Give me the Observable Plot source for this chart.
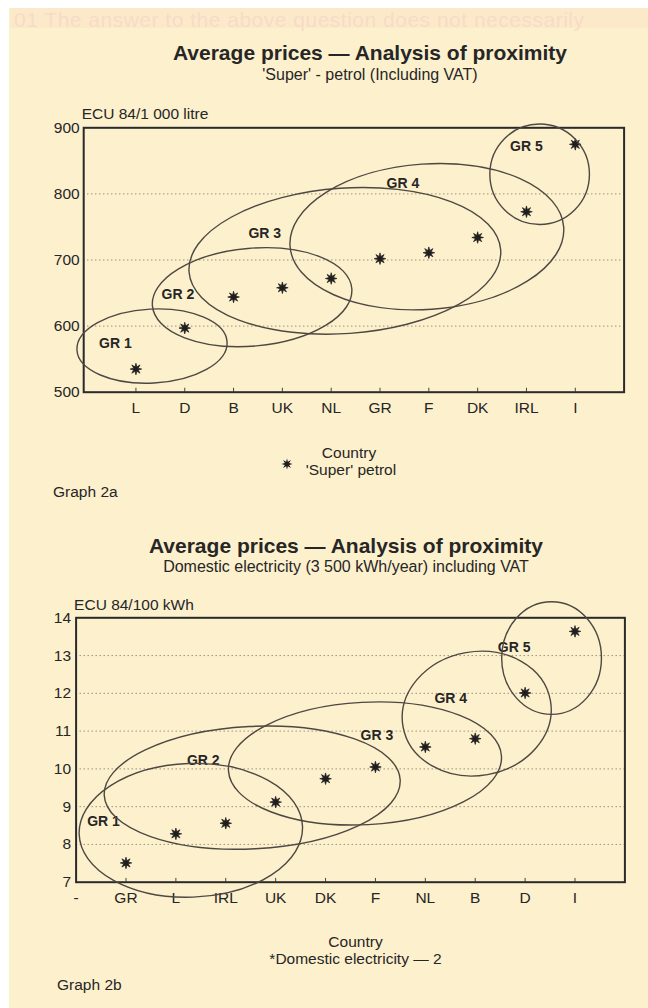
<!DOCTYPE html>
<html><head><meta charset="utf-8">
<script src="https://cdn.jsdelivr.net/npm/d3@7"></script>
<script src="https://cdn.jsdelivr.net/npm/@observablehq/plot@0.6"></script>
<style>
html,body{margin:0;padding:0;background:#ffffff;width:648px;height:1008px;overflow:hidden;position:relative;}
#page{position:absolute;left:9px;top:8px;width:639px;height:1000px;background:#fdf0cd;}
#ghostband{position:absolute;left:10px;top:8px;width:638px;height:20px;background:#fce9c9;}
.t{position:absolute;font-family:"Liberation Sans",Arial,sans-serif;color:#262626;white-space:nowrap;line-height:1;}
.c{transform:translateX(-50%);}
.title{font-weight:bold;font-size:21px;}
.sub{font-size:16px;}
.small{font-size:15.5px;}
.ghost{font-size:21px;color:#f6dcc8;left:14px;top:9px;letter-spacing:0.5px;}
.chart{position:absolute;left:0;}
</style></head>
<body>
<div id="page"></div>
<div id="ghostband"></div>
<div class="t ghost">01 The answer to the above question does not necessarily</div>

<div class="t title c" style="left:370px;top:41.5px">Average prices — Analysis of proximity</div>
<div class="t sub c" style="left:370px;top:67px">'Super' - petrol (Including VAT)</div>
<div id="chart1" class="chart" style="top:100px"></div>
<div class="t small c" style="left:349px;top:445px">Country</div>
<div class="t small c" style="left:351px;top:462px">'Super' petrol</div>
<div id="legstar" style="position:absolute;left:280px;top:457px;width:12px;height:12px"></div>
<div class="t small" style="left:53px;top:484px">Graph 2a</div>

<div class="t title c" style="left:346px;top:534.5px">Average prices — Analysis of proximity</div>
<div class="t sub c" style="left:346px;top:559px">Domestic electricity (3 500 kWh/year) including VAT</div>
<div id="chart2" class="chart" style="top:590px"></div>
<div class="t small c" style="left:355.5px;top:934px">Country</div>
<div class="t small c" style="left:355.5px;top:951px">*Domestic electricity — 2</div>
<div class="t small" style="left:57px;top:977px">Graph 2b</div>

<script>
// ---------- Graph 2a : 'Super' petrol ----------
const petrolCountries = ["L", "D", "B", "UK", "NL", "GR", "F", "DK", "IRL", "I"];
const petrolValues = [535, 597, 644, 658, 672, 702, 711, 734, 773, 875];
const petrolTicks = [500, 600, 700, 800, 900];
const petrolGrid = [600, 700, 800];
const petrolUnit = "ECU 84/1 000 litre";
// proximity groups (centre on category axis, centre value, spread, tilt, label anchor)
const petrolGroupNames = ["GR 1", "GR 2", "GR 3", "GR 4", "GR 5"];
const petrolGroupCx = [1.34, 3.39, 5.29, 6.97, 9.28];
const petrolGroupCy = [569, 643, 698, 734.5, 829];
const petrolGroupSx = [1.54, 2.05, 3.20, 2.81, 1.02];
const petrolGroupSy = [56, 74, 110, 110, 76];
const petrolGroupTilt = [-3, -5, -4, -4, 0];
const petrolLabelX = [0.58, 1.86, 3.64, 6.47, 9.0];
const petrolLabelY = [573, 648, 740, 815, 872];

// ---------- Graph 2b : Domestic electricity ----------
const elecCountries = ["GR", "L", "IRL", "UK", "DK", "F", "NL", "B", "D", "I"];
const elecValues = [7.51, 8.28, 8.56, 9.12, 9.74, 10.05, 10.58, 10.80, 12.01, 13.64];
const elecTicks = [7, 8, 9, 10, 11, 12, 13, 14];
const elecGrid = [8, 9, 10, 11, 12, 13];
const elecAxisLabels = ["-", ...elecCountries];
const elecUnit = "ECU 84/100 kWh";
const elecGroupNames = ["GR 1", "GR 2", "GR 3", "GR 4", "GR 5"];
const elecGroupCx = [2.31, 3.54, 5.80, 8.04, 9.54];
const elecGroupCy = [8.36, 9.49, 10.13, 11.45, 12.92];
const elecGroupSx = [2.24, 2.97, 2.74, 1.50, 1.0];
const elecGroupSy = [1.77, 1.62, 1.62, 1.64, 1.49];
const elecGroupTilt = [-2, -3, -3, -10, 0];
const elecLabelX = [0.55, 2.55, 6.03, 7.51, 8.78];
const elecLabelY = [8.61, 10.22, 10.88, 11.86, 13.21];

// 8-pointed burst symbol
const burst = {
  draw(ctx, size) {
    const R = Math.sqrt(size / Math.PI), r = R * 0.42;
    for (let k = 0; k < 16; k++) {
      const a = k * Math.PI / 8 - Math.PI / 2, rr = k % 2 ? r : R;
      const px = rr * Math.cos(a), py = rr * Math.sin(a);
      k ? ctx.lineTo(px, py) : ctx.moveTo(px, py);
    }
    ctx.closePath();
  }
};

const INK = "#262626";
const style = {fontFamily: "'Liberation Sans', Arial, sans-serif", fontSize: "15.5px", background: "transparent", color: INK, overflow: "visible"};

function build(cfg) {
  const idx = cfg.countries.map((c, i) => i + 1);
  const groups = cfg.names.map((n, i) => ({n, cx: cfg.cx[i], cy: cfg.cy[i], sx: cfg.sx[i], sy: cfg.sy[i], tilt: cfg.tilt[i], lx: cfg.lx[i], ly: cfg.ly[i]}));
  const plot = Plot.plot({
    width: 648, height: 330,
    marginLeft: cfg.ml, marginRight: cfg.mr, marginTop: 27.3, marginBottom: 38.3,
    x: {type: "linear", domain: cfg.xdomain, axis: null, label: null},
    y: {domain: [cfg.ticks[0], cfg.ticks[cfg.ticks.length - 1]], axis: null, label: null},
    style,
    marks: [
      Plot.gridY(cfg.grid, {stroke: "#6f6759", strokeOpacity: 0.85, strokeWidth: 1, strokeDasharray: "1.2,2.8"}),
      Plot.axisX(cfg.xticks, {tickSize: 0, tickPadding: 10, tickFormat: cfg.xfmt, fill: INK, fontSize: 15.5, label: null}),
      Plot.axisY(cfg.ticks, {tickSize: 0, tickPadding: cfg.ypad, fill: INK, fontSize: 15.5, label: null}),
      Plot.ruleX(idx, {y1: cfg.ticks[0], y2: cfg.ticks[0] + cfg.tickLen, stroke: "#444", strokeWidth: 1}),
      Plot.frame({stroke: "#2a2a2a", strokeWidth: 2}),
      Plot.dot(cfg.countries, {x: (d, i) => i + 1, y: (d, i) => cfg.values[i], symbol: burst, r: 5.8, fill: "#1e1e1e", stroke: "#1e1e1e", strokeWidth: 0.7}),
      Plot.text(groups, {x: "lx", y: "ly", text: "n", fontWeight: "bold", fontSize: 14, fill: INK}),
      Plot.text([cfg.unit], {frameAnchor: "top-left", lineAnchor: "middle", dy: cfg.unitDy, dx: cfg.unitDx, textAnchor: "start", fill: INK, fontSize: 15.5})
    ]
  });
  const sx = plot.scale("x"), sy = plot.scale("y");
  const g = d3.select(plot).append("g").attr("fill", "none").attr("stroke", "#4d4842").attr("stroke-width", 1.4);
  for (const e of groups) {
    const px = sx.apply(e.cx), py = sy.apply(e.cy);
    const rx = sx.apply(e.cx + e.sx) - px, ry = py - sy.apply(e.cy + e.sy);
    g.append("ellipse").attr("cx", px).attr("cy", py).attr("rx", rx).attr("ry", ry)
      .attr("transform", `rotate(${e.tilt} ${px} ${py})`);
  }
  return plot;
}

document.getElementById("chart1").append(build({
  countries: petrolCountries, values: petrolValues, ticks: petrolTicks, grid: petrolGrid, unit: petrolUnit,
  names: petrolGroupNames, cx: petrolGroupCx, cy: petrolGroupCy, sx: petrolGroupSx, sy: petrolGroupSy,
  tilt: petrolGroupTilt, lx: petrolLabelX, ly: petrolLabelY,
  xdomain: [-0.07, 11], xticks: petrolCountries.map((c, i) => i + 1), xfmt: i => petrolCountries[i - 1],
  ml: 83.2, mr: 24.4, ypad: 4, tickLen: 6, unitDy: -14, unitDx: -2
}));

document.getElementById("chart2").append(build({
  countries: elecCountries, values: elecValues, ticks: elecTicks, grid: elecGrid, unit: elecUnit,
  names: elecGroupNames, cx: elecGroupCx, cy: elecGroupCy, sx: elecGroupSx, sy: elecGroupSy,
  tilt: elecGroupTilt, lx: elecLabelX, ly: elecLabelY,
  xdomain: [0, 11], xticks: elecAxisLabels.map((c, i) => i), xfmt: i => elecAxisLabels[i],
  ml: 75.6, mr: 23.6, ypad: 5, tickLen: 0.1, unitDy: -12.5, unitDx: -2
}));

// legend star
{
  const p = d3.path(); burst.draw(p, Math.PI * 5.6 * 5.6);
  d3.select("#legstar").append("svg").attr("width", 14).attr("height", 14).attr("viewBox", "-7 -7 14 14")
    .append("path").attr("d", p.toString()).attr("fill", "#1e1e1e");
}
</script>
</body></html>
